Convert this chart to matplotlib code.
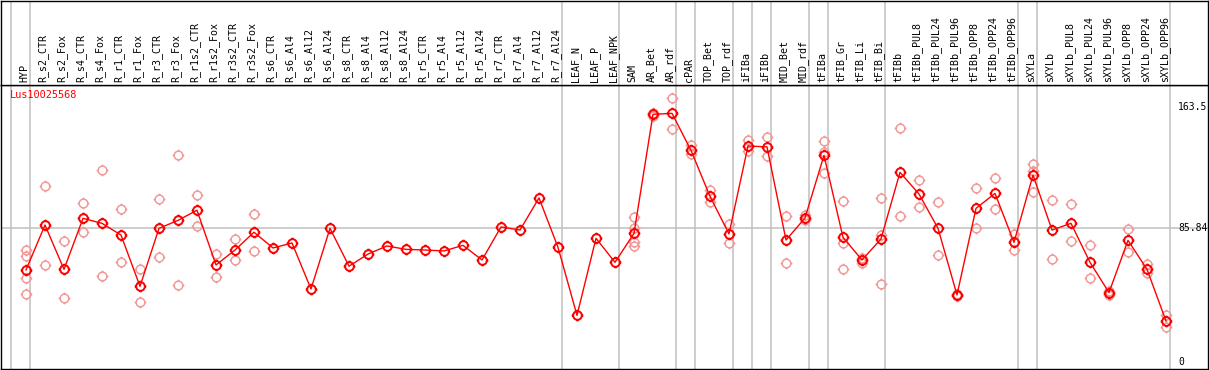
import matplotlib
matplotlib.use('Agg')
import matplotlib.pyplot as plt
from matplotlib.path import Path

gene = 'Lus10025568'

samples = ['HYP', 'R_s2_CTR', 'R_s2_Fox', 'R_s4_CTR', 'R_s4_Fox', 'R_r1_CTR', 'R_r1_Fox',
           'R_r3_CTR', 'R_r3_Fox', 'R_r1s2_CTR', 'R_r1s2_Fox', 'R_r3s2_CTR', 'R_r3s2_Fox',
           'R_s6_CTR', 'R_s6_Al4', 'R_s6_Al12', 'R_s6_Al24', 'R_s8_CTR', 'R_s8_Al4',
           'R_s8_Al12', 'R_s8_Al24', 'R_r5_CTR', 'R_r5_Al4', 'R_r5_Al12', 'R_r5_Al24',
           'R_r7_CTR', 'R_r7_Al4', 'R_r7_Al12', 'R_r7_Al24', 'LEAF_N', 'LEAF_P', 'LEAF_NPK',
           'SAM', 'AR_Bet', 'AR_rdf', 'cPAR', 'TOP_Bet', 'TOP_rdf', 'iFIBa', 'iFIBb',
           'MID_Bet', 'MID_rdf', 'tFIBa', 'tFIB_Gr', 'tFIB_Li', 'tFIB_Bi', 'tFIBb',
           'tFIBb_PUL8', 'tFIBb_PUL24', 'tFIBb_PUL96', 'tFIBb_OPP8', 'tFIBb_OPP24',
           'tFIBb_OPP96', 'sXYLa', 'sXYLb', 'sXYLb_PUL8', 'sXYLb_PUL24', 'sXYLb_PUL96',
           'sXYLb_OPP8', 'sXYLb_OPP24', 'sXYLb_OPP96']

means = [59.0, 87.8, 59.4, 92.1, 88.9, 81.4, 48.5, 85.7, 90.8, 97.3, 62.2, 71.8, 83.2,
         73.1, 76.3, 46.8, 85.7, 61.4, 69.2, 74.4, 72.2, 71.8, 71.2, 74.8, 65.4, 86.6,
         84.6, 105.2, 73.5, 29.9, 79.3, 63.9, 82.5, 158.8, 159.4, 135.7, 106.2, 82.1,
         138.5, 137.9, 78.2, 92.3, 132.5, 79.9, 65.4, 78.9, 121.6, 107.7, 85.7, 43.0,
         98.5, 108.1, 76.7, 119.9, 84.6, 88.9, 63.9, 44.5, 78.0, 59.4, 26.3]

replicates = [
    [71.8, 68.2, 53.7, 43.6], [112.6, 62.0], [77.6, 40.8], [101.7, 83.2],
    [122.9, 54.9], [97.9, 63.9], [59.6, 38.3], [104.3, 67.1], [132.9, 49.2],
    [106.9, 87.0], [69.2, 54.3], [78.7, 65.2], [94.7, 71.0],
    [], [], [], [], [], [], [], [], [], [], [], [], [], [], [], [], [], [], [],
    [93.0, 86.1, 76.7, 74.6], [158.0, 159.5], [169.3, 149.2], [139.1, 133.2],
    [110.3, 102.4], [88.7, 76.1], [142.3, 135.3], [144.3, 131.9], [93.6, 63.5],
    [94.4, 90.9], [141.7, 134.6, 121.0], [103.2, 76.5, 59.4], [63.7, 66.9],
    [105.2, 81.4, 50.0], [149.8, 93.6], [116.7, 99.2], [102.4, 68.6], [42.5, 43.5],
    [111.4, 85.7], [117.8, 97.9], [81.9, 71.6], [127.0, 122.7, 109.2], [103.9, 65.8],
    [101.1, 77.4], [74.8, 53.7], [43.0, 45.5], [85.1, 70.3], [62.6, 57.3], [30.1, 22.2],
]

# group separators sit just right of these sample indices
separators = [-1, 0, 28, 31, 34, 35, 37, 38, 39, 41, 42, 45, 52, 53, 60]

y_max = 163.5
y_mid = 85.84

# circle marker with four small pips
M, L = Path.MOVETO, Path.LINETO
pips = [Path([[0, 1], [0, 1.35]], [M, L]), Path([[0, -1], [0, -1.35]], [M, L]),
        Path([[1, 0], [1.35, 0]], [M, L]), Path([[-1, 0], [-1.35, 0]], [M, L])]
marker = Path.make_compound_path(Path.unit_circle(), *pips)

W, H = 1209, 370
fig = plt.figure(figsize=(W / 100, H / 100), dpi=100)
ax = fig.add_axes([1 / W, 1 / H, 1207 / W, 284 / H])
hdr = fig.add_axes([1 / W, 285 / H, 1207 / W, 84 / H], sharex=ax)

x = list(range(len(samples)))
xlo, xhi = -25 / 19, 60 + 42 / 19
ax.set_xlim(xlo, xhi)
ax.set_ylim(-4.5, 177.6)
hdr.set_ylim(0, 1)

for a in (ax, hdr):
    a.set_xticks([])
    a.set_yticks([])
    for s in a.spines.values():
        s.set_linewidth(1.0)
        s.set_color('black')
    for k in separators:
        a.axvline(k + 0.21, color='#c0c0c0', lw=1.1, zorder=0)

ax.axhline(y_mid, color='#c0c0c0', lw=1.1, zorder=0)

rx = [i for i, r in enumerate(replicates) for _ in r]
ry = [v for r in replicates for v in r]
ax.plot(rx, ry, ls='none', marker=marker, ms=8.4, mfc='none', mec='#f09a9a', mew=1.1, zorder=2)
ax.plot(x, means, color='#ff0000', lw=1.0, marker=marker, ms=8.4, mfc='none',
        mec='#ff0000', mew=1.4, zorder=3)

mono = 'DejaVu Sans Mono'
for i, name in enumerate(samples):
    hdr.text(i - 0.1, 0.03, name, rotation=90, ha='center', va='bottom',
             family=mono, fontsize=7.2, color='black')

lab_x = (1178 - 26) / 19
for v, txt in [(y_max, '163.5'), (y_mid, '85.84'), (0, '0')]:
    ax.text(lab_x, v, txt, ha='left', va='center', family=mono, fontsize=7.0, color='black')

ax.text(xlo + 9 / 19, 171.5, gene, ha='left', va='center', family=mono,
        fontsize=7.4, color='#ff0000')

fig.savefig('out.png', dpi=100)
